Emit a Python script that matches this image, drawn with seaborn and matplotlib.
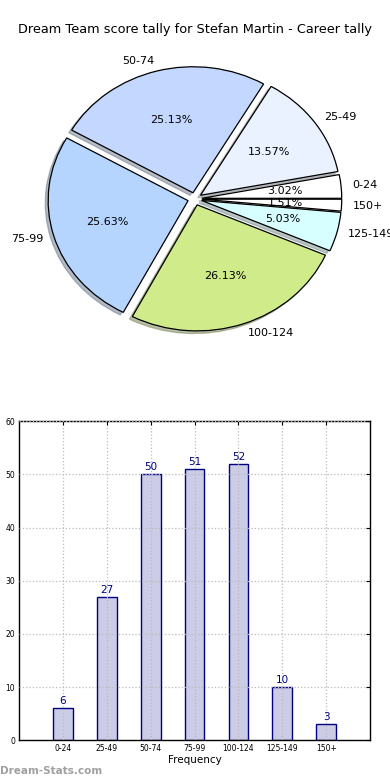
import numpy as np
import pandas as pd
import seaborn as sns
import matplotlib
matplotlib.use('Agg')
import matplotlib.pyplot as plt

categories = ['0-24', '25-49', '50-74', '75-99', '100-124', '125-149', '150+']
frequency = [6, 27, 50, 51, 52, 10, 3]
pie_colors = ['#ffffff', '#eaf2ff', '#c4d8ff', '#b5d5ff', '#d0eb8a', '#d8ffff', '#ffffff']
title = 'Dream Team score tally for Stefan Martin - Career tally'

sns.set_style('white')
plt.rcParams['font.family'] = ['DejaVu Sans']
plt.rcParams['text.color'] = 'black'
plt.rcParams['xtick.color'] = 'black'
plt.rcParams['ytick.color'] = 'black'
plt.rcParams['axes.labelcolor'] = 'black'

fig = plt.figure(figsize=(3.9, 7.8), dpi=100)

# pie on top (old style, not forced round)
axp = fig.add_axes([0.051, 0.543, 0.897, 0.404])
axp.pie(frequency, labels=categories, colors=pie_colors, autopct='%.2f%%',
        explode=[0.05] * len(frequency), startangle=0, labeldistance=1.08,
        shadow=dict(ox=-0.015, oy=-0.015, shade=0.45),
        wedgeprops=dict(edgecolor='black', linewidth=0.9),
        textprops=dict(fontsize=8))
axp.set_aspect('auto')
axp.set_xlim(-1.25, 1.25)
axp.set_ylim(-1.25, 1.25)
axp.axis('off')
fig.text(0.5, 0.962, title, ha='center', va='center', fontsize=9.3)

# bar chart below
axb = fig.add_axes([0.049, 0.051, 0.9, 0.409])
df = pd.DataFrame({'range': categories, 'count': frequency})
sns.barplot(data=df, x='range', y='count', color='#ccccE6', saturation=1,
            edgecolor='navy', linewidth=1, width=0.45, ax=axb, zorder=2)
for i, v in enumerate(frequency):
    axb.text(i, v + 0.4, str(v), ha='center', va='bottom', fontsize=7.5, color='navy')
axb.set_xlim(-1, 7)
axb.set_ylim(0, 60)
axb.set_yticks(range(0, 61, 10))
axb.grid(True, linestyle=':', color='#bbbbbb', linewidth=0.9, zorder=0)
axb.set_axisbelow(False)
for s in axb.spines.values():
    s.set_color('black')
    s.set_linewidth(1)
axb.tick_params(axis='both', labelsize=5.5, direction='in', length=3,
                top=True, right=True, pad=3)
axb.set_xlabel('Frequency', fontsize=7.5, labelpad=1)
axb.set_ylabel('')

fig.text(0.0, 0.012, 'Dream-Stats.com', ha='left', va='center', fontsize=7.5,
         fontweight='bold', color='#a0a0a0')

fig.savefig('out.png', dpi=100)
